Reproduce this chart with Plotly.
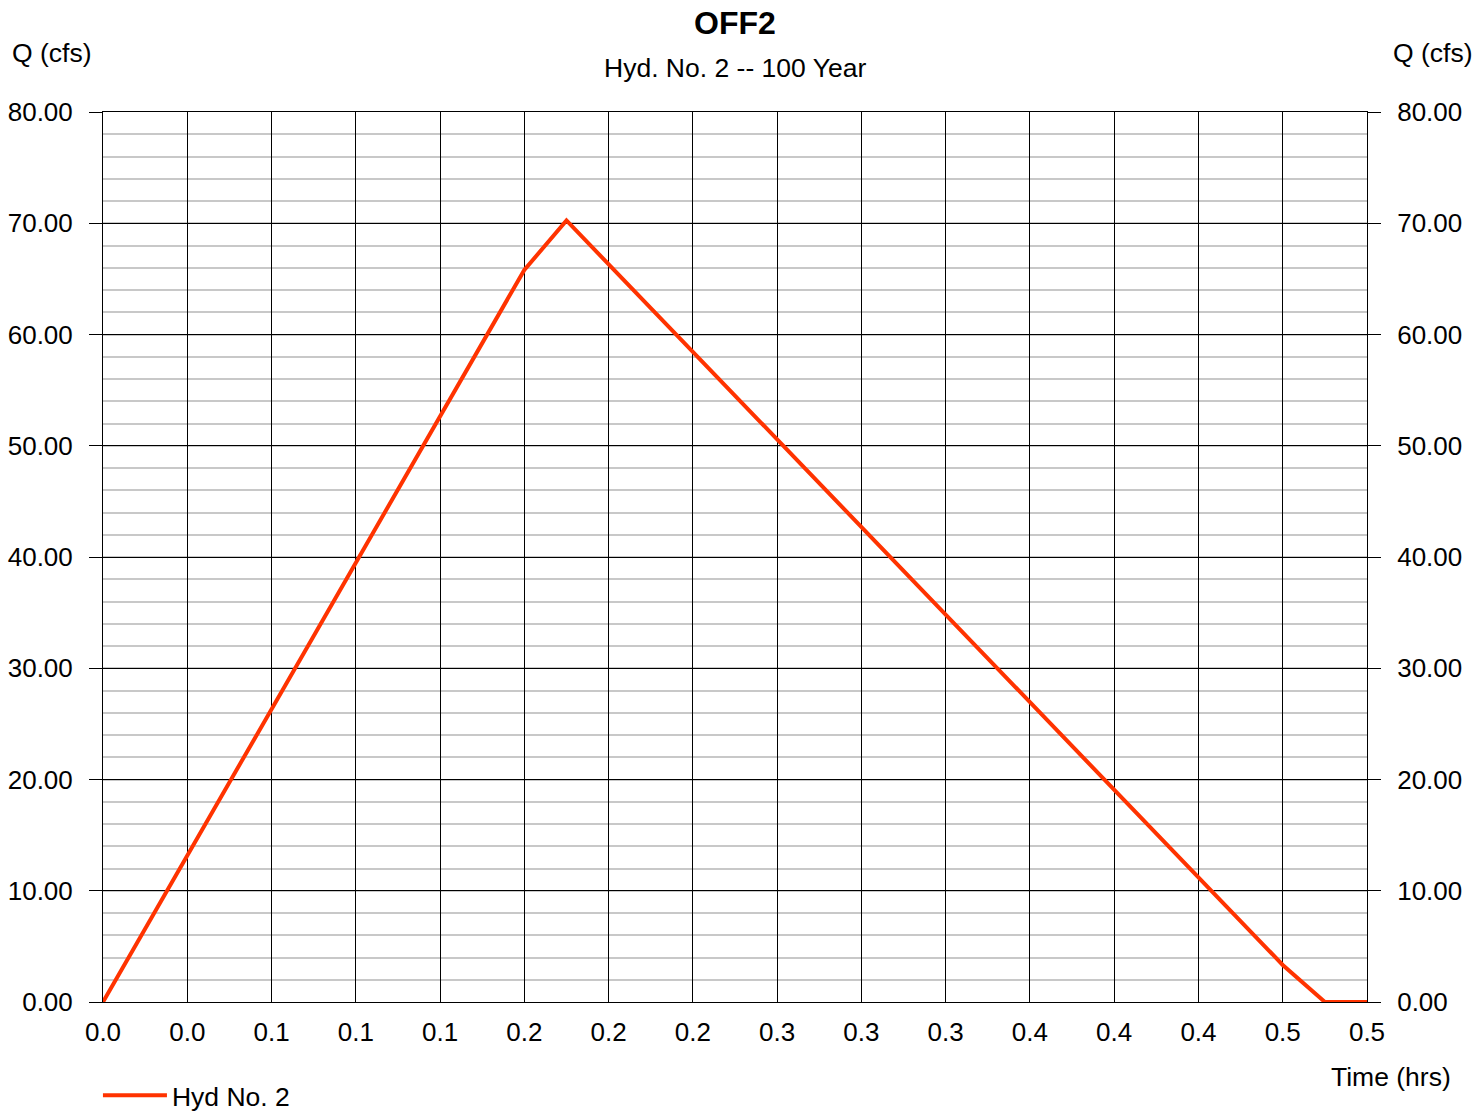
import plotly.graph_objects as go

# Data
time_hrs = [0.0, 10 / 60, 11 / 60, 28 / 60, 29 / 60, 30 / 60]
flow_cfs = [0.0, 65.8, 70.25, 3.33, 0.0, 0.0]

time_tick_vals = [i * 2 / 60 for i in range(16)]
time_tick_text = ["0.0", "0.0", "0.1", "0.1", "0.1", "0.2", "0.2", "0.2",
                  "0.3", "0.3", "0.3", "0.4", "0.4", "0.4", "0.5", "0.5"]
q_tick_vals = [0, 10, 20, 30, 40, 50, 60, 70, 80]
q_tick_text = ["0.00", "10.00", "20.00", "30.00", "40.00", "50.00", "60.00", "70.00", "80.00"]

FONT = "Liberation Sans, Arial, sans-serif"
LINE_COLOR = "rgb(255,51,0)"
TICK_SIZE = 26
TEXT_SIZE = 26.5

fig = go.Figure()
fig.add_trace(go.Scatter(
    x=time_hrs, y=flow_cfs, mode="lines", name="Hyd No. 2",
    line=dict(color=LINE_COLOR, width=4), xaxis="x", yaxis="y",
))
fig.add_trace(go.Scatter(
    x=[], y=[], mode="lines", showlegend=False, xaxis="x", yaxis="y2",
    hoverinfo="skip",
))

yaxis_common = dict(
    range=[0, 80], tickvals=q_tick_vals, ticktext=q_tick_text,
    ticks="outside", ticklen=13, tickcolor="black", tickwidth=1,
    tickfont=dict(family=FONT, size=TICK_SIZE, color="black"),
    zeroline=False, fixedrange=True,
)

fig.update_layout(
    width=1478, height=1112,
    margin=dict(l=103, r=111, t=112, b=110, autoexpand=False),
    paper_bgcolor="white", plot_bgcolor="white",
    font=dict(family=FONT, size=TEXT_SIZE, color="black"),
    xaxis=dict(
        range=[0, 0.5], tickvals=time_tick_vals, ticktext=time_tick_text,
        ticks="", showgrid=True, gridcolor="black", gridwidth=1,
        showline=True, linecolor="black", linewidth=1, mirror=True,
        tickfont=dict(family=FONT, size=TICK_SIZE, color="black"),
        ticklabelstandoff=7, zeroline=False, fixedrange=True,
    ),
    yaxis=dict(
        **yaxis_common, side="left",
        showgrid=True, gridcolor="black", gridwidth=1,
        minor=dict(dtick=2, showgrid=True, gridcolor="#c8c8c8", gridwidth=2, ticks=""),
        showline=True, linecolor="black", linewidth=1,
        ticklabelstandoff=11,
    ),
    yaxis2=dict(
        **yaxis_common, side="right", overlaying="y", showgrid=False,
        showline=True, linecolor="black", linewidth=1, ticklabelstandoff=11,
    ),
    showlegend=True,
    legend=dict(
        x=-0.004, y=-0.105, xanchor="left", yanchor="middle", orientation="h",
        font=dict(family=FONT, size=TEXT_SIZE, color="black"), bgcolor="rgba(0,0,0,0)",
        itemwidth=64,
    ),
    annotations=[
        dict(text="<b>OFF2</b>", x=0.5, y=1.1, xref="paper", yref="paper",
             xanchor="center", yanchor="middle", showarrow=False,
             font=dict(family=FONT, size=32, color="black")),
        dict(text="Hyd. No. 2 -- 100 Year", x=0.5, y=1.0494, xref="paper", yref="paper",
             xanchor="center", yanchor="middle", showarrow=False,
             font=dict(family=FONT, size=TEXT_SIZE, color="black")),
        dict(text="Q (cfs)", x=-0.0736, y=1.0663, xref="paper", yref="paper",
             xanchor="left", yanchor="middle", showarrow=False,
             font=dict(family=FONT, size=TEXT_SIZE, color="black")),
        dict(text="Q (cfs)", x=1.0854, y=1.0663, xref="paper", yref="paper",
             xanchor="right", yanchor="middle", showarrow=False,
             font=dict(family=FONT, size=TEXT_SIZE, color="black")),
        dict(text="Time (hrs)", x=1.068, y=-0.0843, xref="paper", yref="paper",
             xanchor="right", yanchor="middle", showarrow=False,
             font=dict(family=FONT, size=TEXT_SIZE, color="black")),
    ],
)

fig.write_html("out.html", config={"displayModeBar": False},
               post_script="document.body.style.margin='0';")
